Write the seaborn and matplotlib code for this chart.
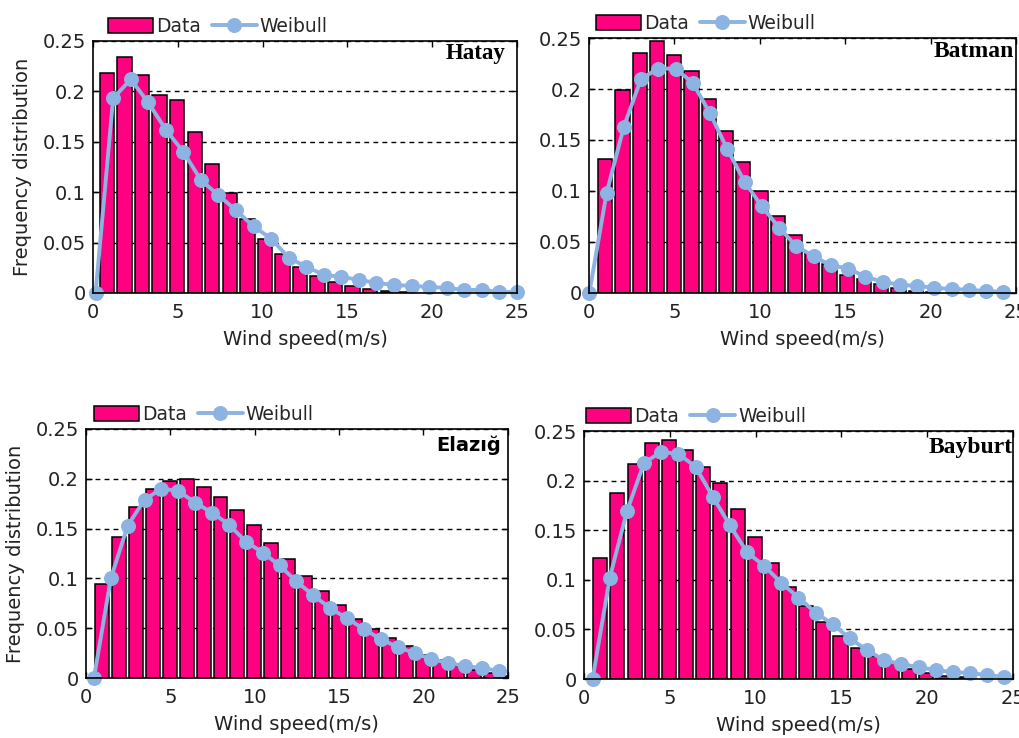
import numpy as np
import matplotlib
matplotlib.use("Agg")
import matplotlib.pyplot as plt
import seaborn as sns

# station names (panel order: top-left, top-right, bottom-left, bottom-right)
stations = ["Hatay", "Batman", "Elazığ", "Bayburt"]

# measured frequency distribution (bars)
hatay_data = [0.218, 0.234, 0.216, 0.196, 0.191, 0.160, 0.128, 0.099, 0.073,
              0.054, 0.039, 0.026, 0.017, 0.011, 0.007, 0.004, 0.002, 0.001]
batman_data = [0.131, 0.199, 0.235, 0.247, 0.233, 0.218, 0.190, 0.159, 0.128,
               0.100, 0.075, 0.057, 0.039, 0.028, 0.018, 0.014, 0.009, 0.005,
               0.002, 0.001]
elazig_data = [0.094, 0.142, 0.172, 0.190, 0.198, 0.200, 0.192, 0.182, 0.169,
               0.154, 0.136, 0.119, 0.102, 0.087, 0.073, 0.059, 0.049, 0.040,
               0.032, 0.023, 0.018, 0.012, 0.008, 0.005, 0.002]
bayburt_data = [0.122, 0.188, 0.217, 0.238, 0.241, 0.231, 0.214, 0.198, 0.171,
                0.143, 0.117, 0.093, 0.074, 0.057, 0.043, 0.031, 0.023, 0.016,
                0.010, 0.006, 0.003, 0.002]

# fitted Weibull distribution (line with markers)
hatay_weibull = [0.0, 0.193, 0.212, 0.189, 0.162, 0.140, 0.112, 0.097, 0.082,
                 0.066, 0.054, 0.035, 0.026, 0.018, 0.016, 0.013, 0.010, 0.008,
                 0.007, 0.006, 0.005, 0.003, 0.003, 0.001, 0.001]
batman_weibull = [0.0, 0.098, 0.163, 0.210, 0.220, 0.220, 0.206, 0.176, 0.141,
                  0.109, 0.085, 0.064, 0.046, 0.036, 0.027, 0.024, 0.016, 0.011,
                  0.008, 0.007, 0.005, 0.004, 0.003, 0.002, 0.001]
elazig_weibull = [0.0, 0.100, 0.153, 0.179, 0.190, 0.188, 0.176, 0.166, 0.154,
                  0.137, 0.126, 0.113, 0.097, 0.083, 0.070, 0.060, 0.049, 0.039,
                  0.031, 0.025, 0.019, 0.015, 0.012, 0.010, 0.007]
bayburt_weibull = [0.0, 0.102, 0.169, 0.218, 0.229, 0.227, 0.214, 0.184, 0.155,
                   0.128, 0.114, 0.097, 0.082, 0.067, 0.055, 0.041, 0.029, 0.019,
                   0.015, 0.012, 0.009, 0.007, 0.006, 0.004, 0.002]

data = {"Hatay": hatay_data, "Batman": batman_data,
        "Elazığ": elazig_data, "Bayburt": bayburt_data}
weibull = {"Hatay": hatay_weibull, "Batman": batman_weibull,
           "Elazığ": elazig_weibull, "Bayburt": bayburt_weibull}

x_ticks = [0, 5, 10, 15, 20, 25]
y_ticks = [0, 0.05, 0.1, 0.15, 0.2, 0.25]
y_tick_labels = ["0", "0.05", "0.1", "0.15", "0.2", "0.25"]

BAR_COLOR = "#ff0080"
WB_COLOR = "#8db3e2"

# bin layout per panel: first bar centre, first weibull point, bin step
layout = {"Hatay": (0.82, 0.15, 1.035), "Batman": (0.95, 0.02, 1.01),
          "Elazığ": (0.97, 0.47, 1.0), "Bayburt": (0.95, 0.50, 1.0)}

# axes rectangles in figure fraction
positions = [[0.0913, 0.6030, 0.4161, 0.3415],
             [0.5780, 0.6030, 0.4190, 0.3455],
             [0.0844, 0.0813, 0.4140, 0.3374],
             [0.5731, 0.0799, 0.4210, 0.3360]]

# station label placement and font
name_pos = [(0.972, 0.99), (0.995, 0.99), (0.984, 0.975), (1.0, 0.975)]
name_font = ["Liberation Serif", "Liberation Serif", "DejaVu Sans", "Liberation Serif"]
name_size = [16.5, 17, 14, 17]
legend_x = [0.035, 0.016, 0.019, 0.005]

sns.set_theme(style="ticks")
plt.rcParams["font.family"] = ["DejaVu Sans"]

fig = plt.figure(figsize=(10.19, 7.38), dpi=100)

for i, name in enumerate(stations):
    ax = fig.add_axes(positions[i])
    b0, w0, step = layout[name]
    bars = data[name]
    wb = weibull[name]
    bx = b0 + step * np.arange(len(bars))
    wx = w0 + step * np.arange(len(wb))

    sns.barplot(x=bx, y=bars, native_scale=True, width=0.82, color=BAR_COLOR,
                saturation=1, edgecolor="black", linewidth=1.1, errorbar=None,
                label="Data", ax=ax)
    sns.lineplot(x=wx, y=wb, color=WB_COLOR, linewidth=2.8, marker="o",
                 markersize=10, markeredgecolor=WB_COLOR, clip_on=False,
                 label="Weibull", ax=ax)

    ax.set_xlim(0, 25)
    ax.set_ylim(0, 0.25)
    ax.set_xticks(x_ticks)
    ax.set_yticks(y_ticks)
    ax.set_yticklabels(y_tick_labels)
    ax.set_axisbelow(True)
    ax.xaxis.grid(False)
    ax.yaxis.grid(True, linestyle=(0, (3.5, 3)), color="black", linewidth=1)
    ax.tick_params(direction="in", top=True, right=True, length=4, width=1,
                   labelsize=14, pad=5, color="black", labelcolor="#222222")
    ax.tick_params(axis="x", pad=7)
    for sp in ax.spines.values():
        sp.set_color("black")
        sp.set_linewidth(1.2)

    ax.set_xlabel("Wind speed(m/s)", fontsize=14, color="#222222", labelpad=6)
    if i % 2 == 0:
        ax.set_ylabel("Frequency distribution", fontsize=14, color="#222222",
                      labelpad=8)
    else:
        ax.set_ylabel("")

    ax.text(name_pos[i][0], name_pos[i][1], name, transform=ax.transAxes,
            ha="right", va="top", fontweight="bold", family=name_font[i],
            fontsize=name_size[i], color="black")

    handles, labels = ax.get_legend_handles_labels()
    order = [labels.index("Data"), labels.index("Weibull")]
    ax.legend([handles[k] for k in order], [labels[k] for k in order],
              loc="lower left", bbox_to_anchor=(legend_x[i], 1.02), ncol=2,
              frameon=False, fontsize=13.5, borderaxespad=0, borderpad=0,
              handlelength=2.4, handleheight=0.8, handletextpad=0.15,
              columnspacing=0.6, numpoints=1)

fig.savefig("out.png", dpi=100, facecolor="white")
